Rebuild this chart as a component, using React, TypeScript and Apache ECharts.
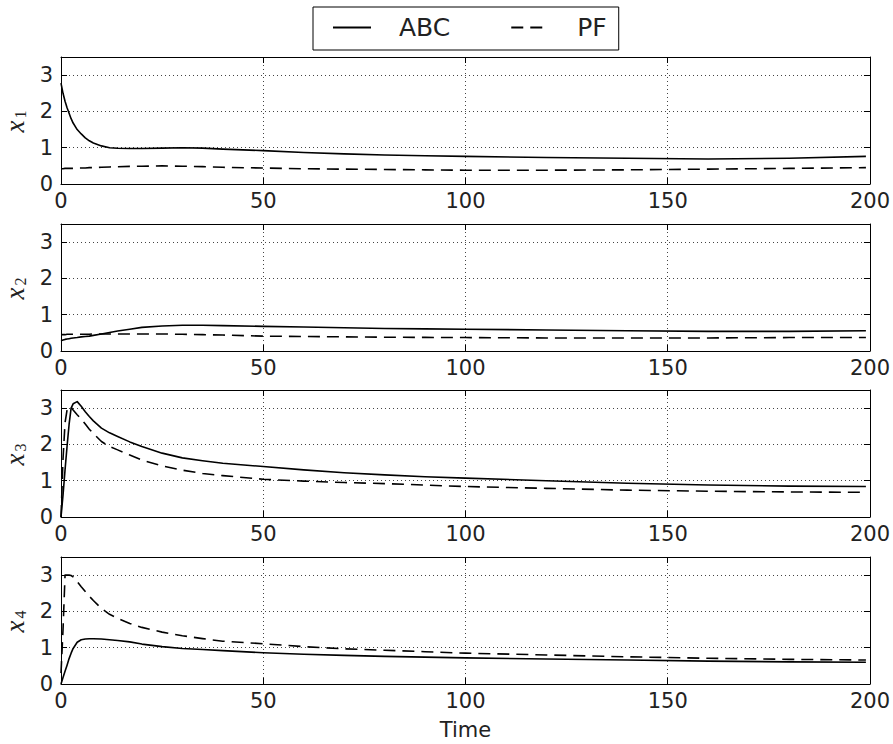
import React, { useEffect, useRef } from "react";
import * as echarts from "echarts";

// Time samples (shared by all series)
const T = [0, 0.5, 1, 1.5, 2, 2.5, 3, 4, 5, 6, 7, 8, 10, 12, 14, 17, 20, 25, 30, 35, 40, 50, 60, 70, 80, 90, 100, 120, 140, 160, 180, 199];

// x1
const X1_ABC = [2.78, 2.5, 2.28, 2.1, 1.95, 1.8, 1.68, 1.5, 1.38, 1.27, 1.19, 1.13, 1.05, 1.0, 0.985, 0.98, 0.98, 0.99, 1.0, 0.99, 0.96, 0.92, 0.87, 0.83, 0.8, 0.78, 0.76, 0.73, 0.71, 0.69, 0.71, 0.76];
const X1_PF = [0.42, 0.42, 0.43, 0.43, 0.43, 0.43, 0.43, 0.44, 0.44, 0.44, 0.45, 0.45, 0.46, 0.47, 0.475, 0.485, 0.49, 0.5, 0.49, 0.48, 0.46, 0.44, 0.42, 0.41, 0.4, 0.39, 0.38, 0.38, 0.39, 0.41, 0.43, 0.45];
// x2
const X2_ABC = [0.28, 0.3, 0.32, 0.33, 0.34, 0.35, 0.36, 0.37, 0.39, 0.4, 0.41, 0.43, 0.47, 0.51, 0.55, 0.6, 0.65, 0.69, 0.71, 0.71, 0.7, 0.68, 0.66, 0.64, 0.62, 0.61, 0.6, 0.58, 0.56, 0.54, 0.54, 0.56];
const X2_PF = [0.45, 0.45, 0.45, 0.46, 0.46, 0.46, 0.46, 0.46, 0.46, 0.46, 0.46, 0.47, 0.47, 0.47, 0.47, 0.47, 0.47, 0.47, 0.46, 0.45, 0.44, 0.41, 0.4, 0.39, 0.38, 0.375, 0.37, 0.36, 0.36, 0.36, 0.37, 0.37];
// x3
const X3_ABC = [0, 0.6, 1.3, 1.95, 2.55, 3.0, 3.12, 3.18, 3.05, 2.9, 2.77, 2.65, 2.45, 2.32, 2.22, 2.07, 1.94, 1.76, 1.63, 1.55, 1.48, 1.39, 1.3, 1.22, 1.16, 1.11, 1.07, 1.0, 0.93, 0.88, 0.85, 0.84];
const X3_PF = [0, 1.6, 2.6, 2.95, 3.05, 3.02, 2.95, 2.82, 2.7, 2.56, 2.42, 2.3, 2.08, 1.94, 1.85, 1.71, 1.57, 1.41, 1.29, 1.2, 1.14, 1.04, 0.99, 0.95, 0.92, 0.88, 0.84, 0.79, 0.74, 0.71, 0.69, 0.68];
// x4
const X4_ABC = [0, 0.18, 0.35, 0.52, 0.7, 0.85, 0.98, 1.15, 1.22, 1.24, 1.245, 1.245, 1.24, 1.22, 1.2, 1.16, 1.1, 1.03, 0.98, 0.95, 0.92, 0.86, 0.82, 0.79, 0.76, 0.74, 0.72, 0.69, 0.66, 0.63, 0.61, 0.6];
const X4_PF = [0.3, 1.5, 3.0, 3.0, 3.0, 2.99, 2.95, 2.82, 2.68, 2.55, 2.42, 2.3, 2.08, 1.92, 1.81, 1.67, 1.56, 1.43, 1.33, 1.25, 1.18, 1.11, 1.03, 0.97, 0.93, 0.89, 0.85, 0.8, 0.75, 0.71, 0.68, 0.66];

const ABC_SETS = [X1_ABC, X2_ABC, X3_ABC, X4_ABC];
const PF_SETS = [X1_PF, X2_PF, X3_PF, X4_PF];
const LEGEND = ["ABC", "PF"];
const X_TICKS = { min: 0, max: 200, interval: 50 };
const Y_TICKS = { min: 0, max: 3.5, interval: 1 };
const X_NAME = "Time";

const GRID_TOPS = [57, 224, 390, 557];
const GRID_H = 127;
const FONT = "DejaVu Sans";
const TXT = "#222";

export default function App() {
  const ref = useRef<HTMLDivElement>(null);
  useEffect(() => {
    if (!ref.current) return;
    const chart = echarts.init(ref.current, null, { renderer: "svg" });

    const grids: any[] = [];
    const xAxes: any[] = [];
    const yAxes: any[] = [];
    const series: any[] = [];
    const graphics: any[] = [];

    const axLine = { show: true, onZero: false, lineStyle: { color: "#000", width: 1 } };
    const axTick = { show: true, inside: true, length: 6, lineStyle: { color: "#000", width: 1 } };

    GRID_TOPS.forEach((top, i) => {
      grids.push({ left: 61, right: 23, top, height: GRID_H, containLabel: false });
      xAxes.push({
        type: "value", gridIndex: i, position: "bottom", ...X_TICKS,
        axisLine: axLine, axisTick: axTick,
        axisLabel: { show: true, margin: 6, fontSize: 21, fontFamily: FONT, color: TXT, showMinLabel: true, showMaxLabel: true },
        splitLine: { show: true, lineStyle: { color: "#444", width: 1, type: [1, 3] } },
        name: i === 3 ? X_NAME : "", nameLocation: "middle", nameGap: 35,
        nameTextStyle: { fontSize: 21, fontFamily: FONT, color: TXT },
      });
      xAxes.push({
        type: "value", gridIndex: i, position: "top", ...X_TICKS,
        axisLine: axLine, axisTick: axTick, axisLabel: { show: false }, splitLine: { show: false },
      });
      yAxes.push({
        type: "value", gridIndex: i, position: "left", ...Y_TICKS,
        axisLine: axLine, axisTick: axTick,
        axisLabel: {
          show: true, margin: 8, fontSize: 21, fontFamily: FONT, color: TXT,
          formatter: (v: number) => (Math.abs(v - Math.round(v)) < 1e-9 ? String(Math.round(v)) : ""),
        },
        splitLine: { show: true, lineStyle: { color: "#444", width: 1, type: [1, 3] } },
      });
      yAxes.push({
        type: "value", gridIndex: i, position: "right", ...Y_TICKS,
        axisLine: axLine, axisTick: axTick, axisLabel: { show: false }, splitLine: { show: false },
      });
      series.push({
        type: "line", name: LEGEND[0], xAxisIndex: 2 * i, yAxisIndex: 2 * i,
        data: T.map((t, k) => [t, ABC_SETS[i][k]]),
        symbol: "none",
        lineStyle: { color: "#000", width: 1.6, type: "solid", join: "round" },
        itemStyle: { color: "#000" },
      });
      series.push({
        type: "line", name: LEGEND[1], xAxisIndex: 2 * i, yAxisIndex: 2 * i,
        data: T.map((t, k) => [t, PF_SETS[i][k]]),
        symbol: "none",
        lineStyle: { color: "#000", width: 1.6, type: [12, 7], join: "round" },
        itemStyle: { color: "#000" },
      });
      const cy = top + GRID_H / 2;
      graphics.push({
        type: "group", x: 17.5, y: cy, rotation: Math.PI / 2,
        children: [
          {
            type: "text", x: -6, y: -3,
            style: { text: "x", fontSize: 27, fontStyle: "italic", fontFamily: "Liberation Serif", fill: TXT, align: "center", verticalAlign: "middle" },
          },
          {
            type: "text", x: 6, y: 2.5,
            style: { text: String(i + 1), fontSize: 16, fontFamily: "Liberation Serif", fill: TXT, align: "center", verticalAlign: "middle" },
          },
        ],
      });
    });

    chart.setOption({
      animation: false,
      backgroundColor: "#fff",
      grid: grids,
      xAxis: xAxes,
      yAxis: yAxes,
      series,
      graphic: graphics,
      legend: {
        show: true, data: LEGEND, left: 313, top: 7, orient: "horizontal",
        itemWidth: 38, itemHeight: 14, itemGap: 60, selectedMode: false,
        itemStyle: { color: "rgba(0,0,0,0)", borderWidth: 0, opacity: 0 },
        lineStyle: { inherit: true },
        borderColor: "#000", borderWidth: 1, borderRadius: 0, padding: [8, 12, 10, 19],
        formatter: (n: string) => `{t|${n}}`,
        textStyle: {
          fontFamily: FONT, fontSize: 25, color: TXT,
          rich: { t: { fontFamily: FONT, fontSize: 25, color: TXT, padding: [0, 0, 0, 23] } },
        },
      },
    });
    return () => chart.dispose();
  }, []);
  return <div ref={ref} style={{ width: 893, height: 744, position: "absolute", left: 0, top: 0 }} />;
}
